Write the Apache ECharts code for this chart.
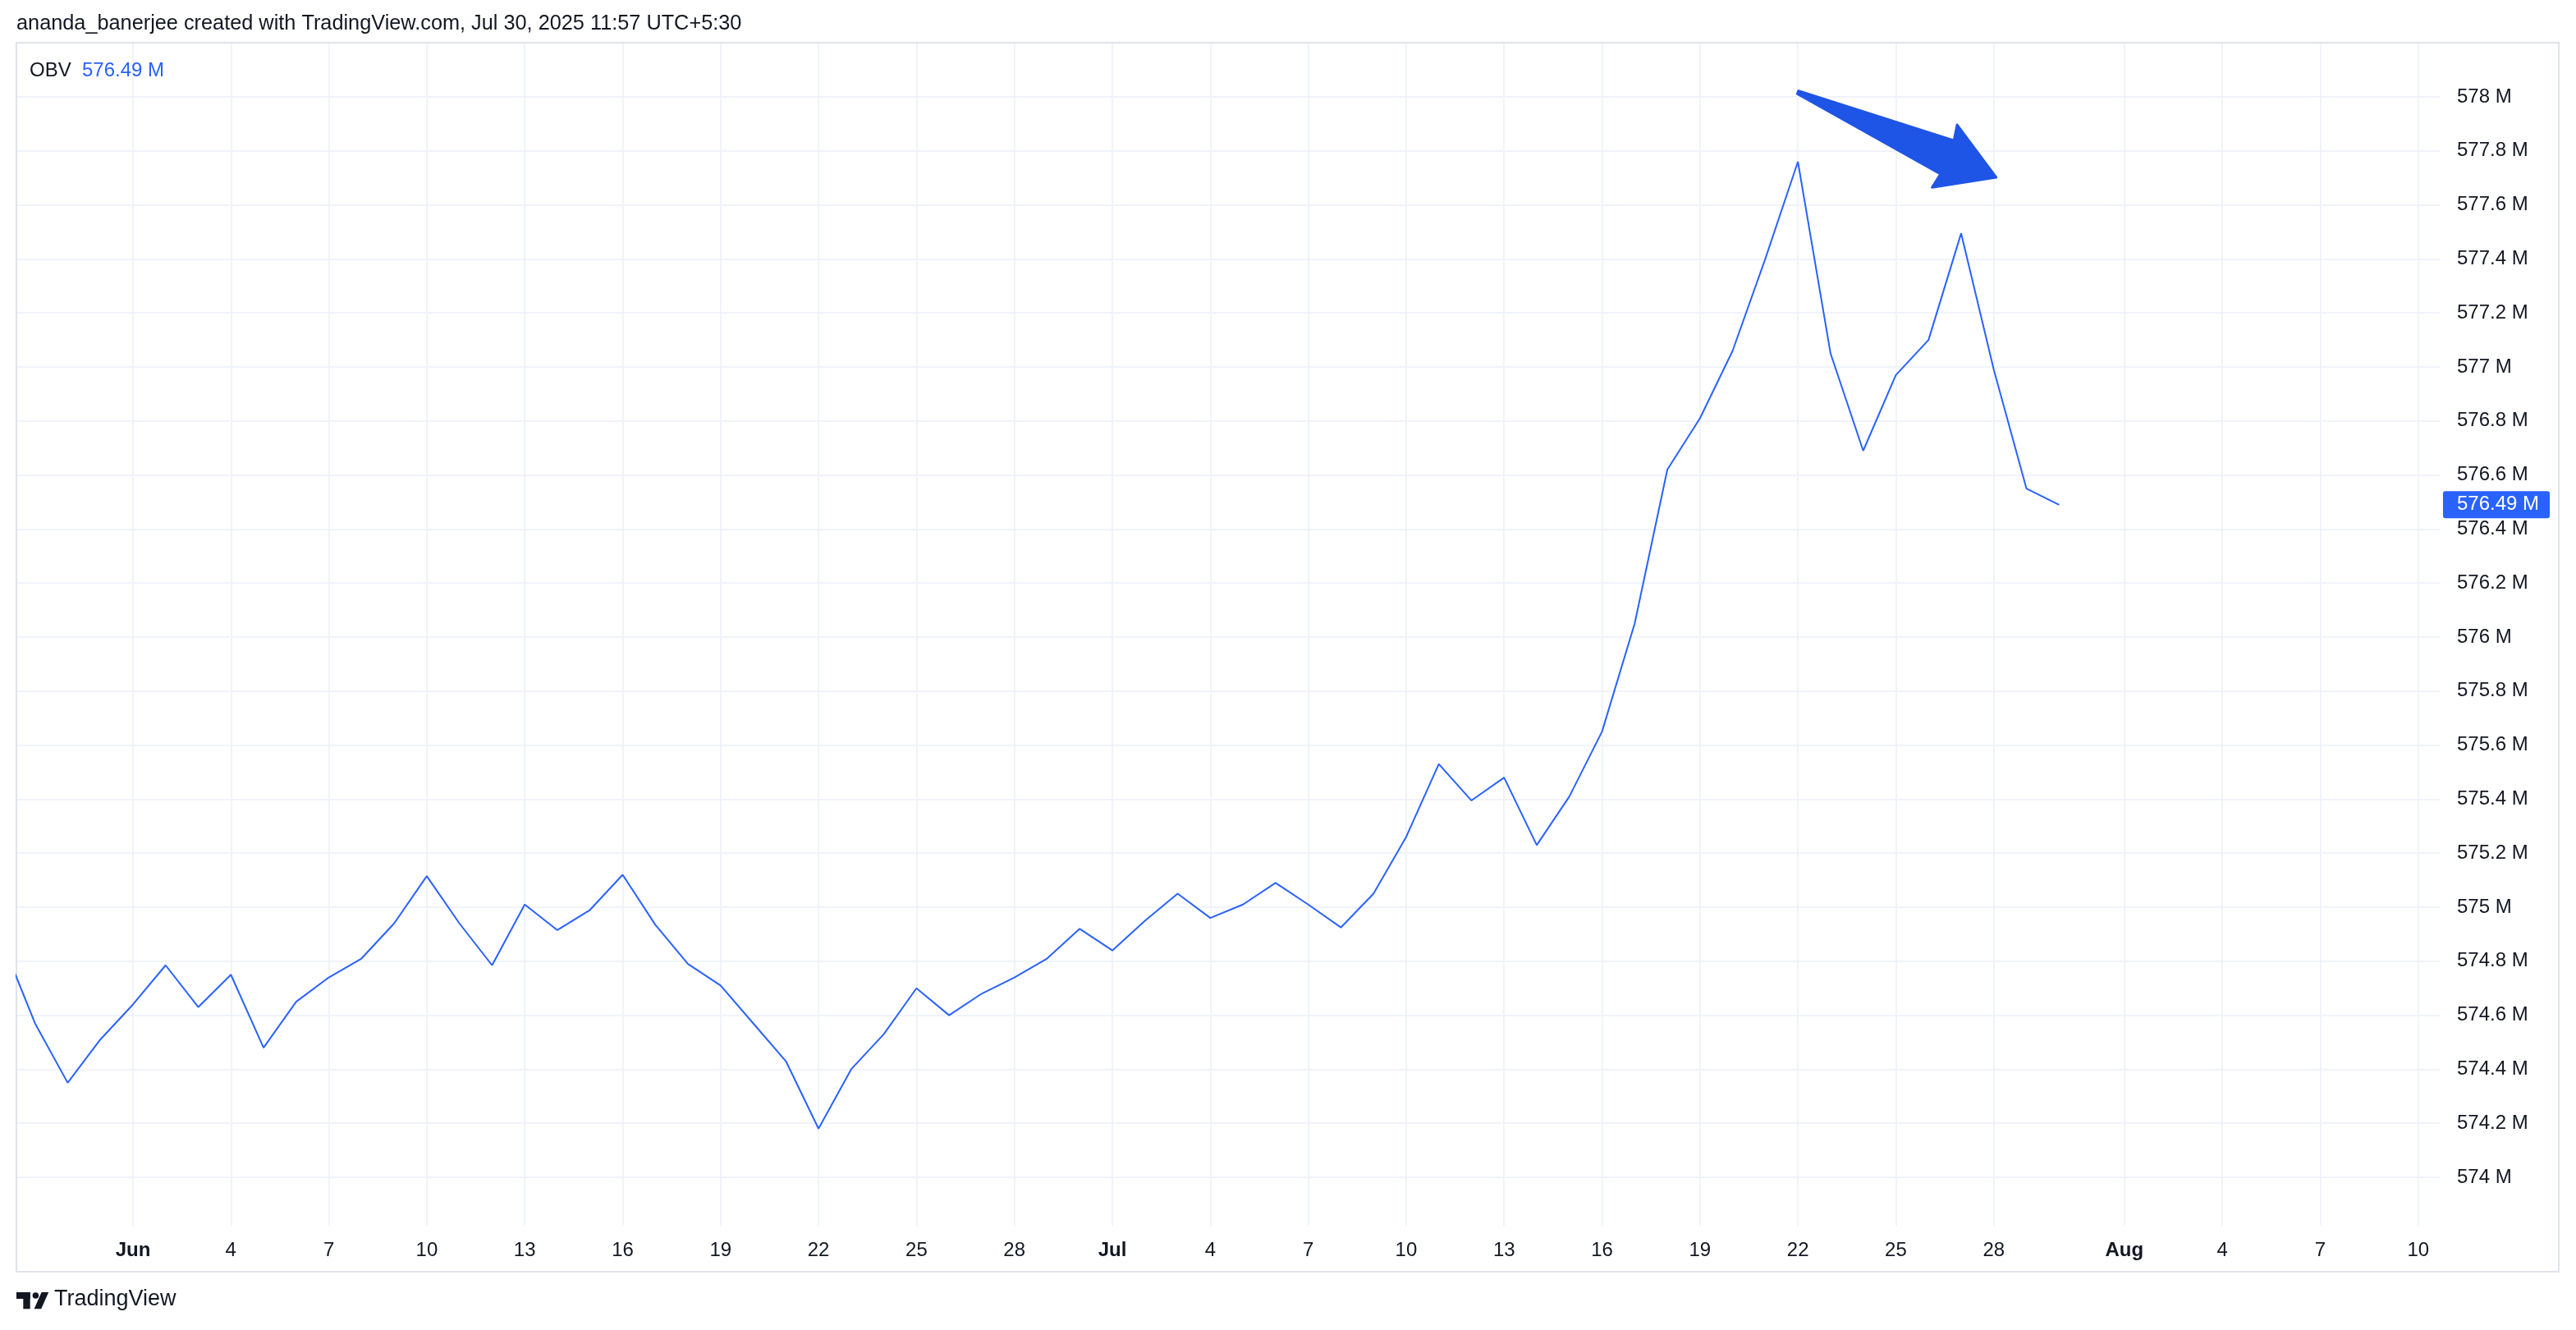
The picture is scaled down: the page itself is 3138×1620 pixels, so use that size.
<!DOCTYPE html>
<html><head><meta charset="utf-8">
<script src="https://cdn.jsdelivr.net/npm/echarts@6/dist/echarts.min.js"></script>
<style>html,body{margin:0;padding:0;background:#fff}#c{width:3138px;height:1620px}</style>
</head><body><div id="c"></div>
<script>
// ---- data ----
const dates = [
  '2025-05-28','2025-05-29','2025-05-30','2025-05-31',
  '2025-06-01','2025-06-02','2025-06-03','2025-06-04','2025-06-05','2025-06-06','2025-06-07','2025-06-08','2025-06-09','2025-06-10',
  '2025-06-11','2025-06-12','2025-06-13','2025-06-14','2025-06-15','2025-06-16','2025-06-17','2025-06-18','2025-06-19','2025-06-20',
  '2025-06-21','2025-06-22','2025-06-23','2025-06-24','2025-06-25','2025-06-26','2025-06-27','2025-06-28','2025-06-29','2025-06-30',
  '2025-07-01','2025-07-02','2025-07-03','2025-07-04','2025-07-05','2025-07-06','2025-07-07','2025-07-08','2025-07-09','2025-07-10',
  '2025-07-11','2025-07-12','2025-07-13','2025-07-14','2025-07-15','2025-07-16','2025-07-17','2025-07-18','2025-07-19','2025-07-20',
  '2025-07-21','2025-07-22','2025-07-23','2025-07-24','2025-07-25','2025-07-26','2025-07-27','2025-07-28','2025-07-29','2025-07-30'
];
const obv = [
  574.87, 574.57, 574.35, 574.51,
  574.64, 574.785, 574.63, 574.75, 574.48, 574.65, 574.74, 574.81, 574.94, 575.115,
  574.94, 574.785, 575.01, 574.915, 574.99, 575.12, 574.935, 574.79, 574.71, 574.57,
  574.43, 574.18, 574.40, 574.53, 574.70, 574.60, 574.68, 574.74, 574.81, 574.92,
  574.84, 574.95, 575.05, 574.96, 575.01, 575.09, 575.01, 574.925, 575.05, 575.26,
  575.53, 575.395, 575.48, 575.23, 575.41, 575.65, 576.05, 576.62, 576.81, 577.06,
  577.40, 577.76, 577.05, 576.69, 576.97, 577.10, 577.495, 576.99, 576.55, 576.49
];
const yTicks = [574, 574.2, 574.4, 574.6, 574.8, 575, 575.2, 575.4, 575.6, 575.8, 576,
                576.2, 576.4, 576.6, 576.8, 577, 577.2, 577.4, 577.6, 577.8, 578];
const xTickDates = ['2025-06-01','2025-06-04','2025-06-07','2025-06-10','2025-06-13','2025-06-16','2025-06-19','2025-06-22','2025-06-25','2025-06-28',
                    '2025-07-01','2025-07-04','2025-07-07','2025-07-10','2025-07-13','2025-07-16','2025-07-19','2025-07-22','2025-07-25','2025-07-28',
                    '2025-08-01','2025-08-04','2025-08-07','2025-08-10'];
const xTickLabels = ['Jun','4','7','10','13','16','19','22','25','28',
                     'Jul','4','7','10','13','16','19','22','25','28',
                     'Aug','4','7','10'];
const headerText = 'ananda_banerjee created with TradingView.com, Jul 30, 2025 11:57 UTC+5:30';
const seriesName = 'OBV';
const unit = 'M';

// ---- helpers ----
const DAY = 86400000;
const BASE = Date.parse('2025-06-01T00:00:00Z');
const dayOff = s => (Date.parse(s + 'T00:00:00Z') - BASE) / DAY;
const xTickDays = xTickDates.map(dayOff);
const points = dates.map((d, i) => [dayOff(d), obv[i]]);
const lastVal = obv[obv.length - 1];
const fmtM = v => (Math.round(v * 10) / 10).toFixed(1).replace(/\.0$/, '') + ' ' + unit;

const TXT = '#131722';
const BLUE = '#2962ff';
const FONT = '"Liberation Sans", Arial, sans-serif';

const chart = echarts.init(document.getElementById('c'), null, {renderer: 'canvas'});

const option = {
  animation: false,
  backgroundColor: '#ffffff',
  textStyle: {fontFamily: FONT},
  grid: {left: 20, right: 166, top: 52, bottom: 127, containLabel: false},
  xAxis: {
    type: 'value',
    min: -3.57, max: 70.66,
    axisLine: {show: false},
    axisTick: {show: false, customValues: xTickDays},
    axisLabel: {
      customValues: xTickDays,
      margin: 18,
      fontSize: 24, color: TXT, fontFamily: FONT,
      formatter: v => {
        const i = xTickDays.findIndex(t => Math.abs(t - v) < 0.01);
        if (i < 0) return '';
        const lab = xTickLabels[i];
        return isNaN(Number(lab)) ? '{b|' + lab + '}' : lab;
      },
      rich: {b: {fontWeight: 'bold', fontSize: 24, color: TXT, fontFamily: FONT}}
    },
    splitLine: {show: true, lineStyle: {color: '#f0f3fa', width: 2}}
  },
  yAxis: {
    type: 'value',
    position: 'right',
    min: 573.8207, max: 578.2006,
    axisLine: {show: false},
    axisTick: {show: false, customValues: yTicks},
    axisLabel: {
      customValues: yTicks,
      margin: 21, align: 'left',
      fontSize: 24, color: TXT, fontFamily: FONT,
      formatter: v => fmtM(v)
    },
    splitLine: {show: true, lineStyle: {color: '#f0f3fa', width: 2}}
  },
  series: [{
    name: seriesName,
    type: 'line',
    data: points,
    showSymbol: false,
    clip: true,
    lineStyle: {color: BLUE, width: 2},
    itemStyle: {color: BLUE},
    markLine: {
      silent: true,
      symbol: ['none', 'none'],
      lineStyle: {color: 'rgba(0,0,0,0)', width: 0, type: 'solid'},
      data: [{yAxis: lastVal}],
      label: {
        show: true, position: 'end', distance: 4,
        formatter: () => lastVal.toFixed(2) + ' ' + unit,
        backgroundColor: BLUE, color: '#ffffff',
        fontSize: 24, fontFamily: FONT,
        padding: [5, 13, 4, 17], borderRadius: 3
      }
    }
  }]
};
chart.setOption(option);

// annotation arrow, anchored in data space
const arrowFrom = [dayOff('2025-07-22'), 578.017];
const arrowTo = [dayOff('2025-07-28') + 0.075, 577.702];
const p0 = chart.convertToPixel({gridIndex: 0}, arrowFrom);
const p1 = chart.convertToPixel({gridIndex: 0}, arrowTo);
const dx = p1[0] - p0[0], dy = p1[1] - p0[1];
const L = Math.hypot(dx, dy), ux = dx / L, uy = dy / L, nx = -uy, ny = ux;
const local = [[0, -2], [L - 65, -21], [L - 69, -40], [L, 0], [L - 67, 42], [L - 64, 23], [0, 2]];
const arrowPts = local.map(([a, c]) => [p0[0] + a * ux + c * nx, p0[1] + a * uy + c * ny]);

chart.setOption({
  graphic: [
    {type: 'rect', id: 'pane', shape: {x: 20, y: 52, width: 3097, height: 1497},
     style: {fill: 'none', stroke: '#e0e3eb', lineWidth: 2}, silent: true, z: 1},
    {type: 'text', id: 'hdr', left: 20, top: 17,
     style: {text: headerText, fontSize: 25.3, fill: TXT, fontFamily: FONT}},
    {type: 'text', id: 'lg1', left: 36, top: 74,
     style: {text: seriesName, fontSize: 24, fill: TXT, fontFamily: FONT}},
    {type: 'text', id: 'lg2', left: 100, top: 74,
     style: {text: lastVal.toFixed(2) + ' ' + unit, fontSize: 24, fill: BLUE, fontFamily: FONT}},
    {type: 'polygon', id: 'arrow', shape: {points: arrowPts},
     style: {fill: '#1f55e6', stroke: '#1f55e6', lineWidth: 3, lineJoin: 'round'}, z: 10},
    // TradingView logo
    {type: 'rect', id: 'lgA', shape: {x: 20, y: 1574, width: 16.7, height: 8}, style: {fill: TXT}},
    {type: 'rect', id: 'lgB', shape: {x: 28.3, y: 1574, width: 8.4, height: 20.3}, style: {fill: TXT}},
    {type: 'circle', id: 'lgC', shape: {cx: 43.4, cy: 1578, r: 3.8}, style: {fill: TXT}},
    {type: 'polygon', id: 'lgD', shape: {points: [[50.6, 1574], [59.2, 1574], [50.2, 1594.3], [41.6, 1594.3]]}, style: {fill: TXT}},
    {type: 'text', id: 'tvtxt', left: 66, top: 1569,
     style: {text: 'TradingView', fontSize: 27, fill: TXT, fontFamily: FONT}}
  ]
});
</script>
</body></html>
